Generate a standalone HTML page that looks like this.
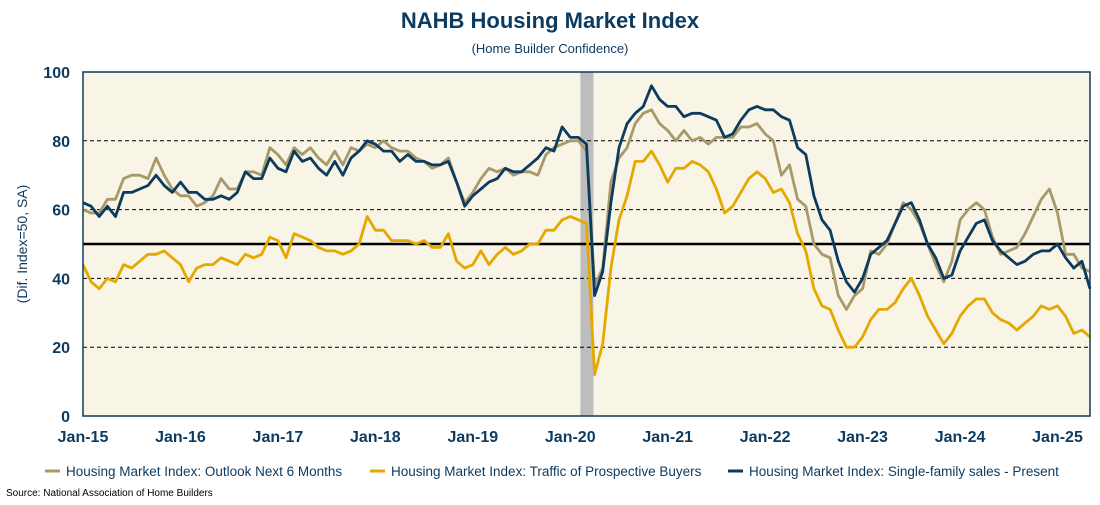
<!DOCTYPE html>
<html><head><meta charset="utf-8"><style>
body{margin:0;background:#fff;font-family:"Liberation Sans",sans-serif}
svg text{font-family:"Liberation Sans",sans-serif}
</style></head><body>
<svg id="c" width="1100" height="500">
<text x="550" y="28" text-anchor="middle" font-size="22" font-weight="bold" fill="#0d3a5f">NAHB Housing Market Index</text>
<text x="550" y="53" text-anchor="middle" font-size="13" fill="#0d3a5f">(Home Builder Confidence)</text>
<text transform="translate(27,244) rotate(-90)" text-anchor="middle" font-size="14" fill="#0d3a5f">(Dif. Index=50, SA)</text>
<text x="6" y="496" font-size="10" fill="#000">Source: National Association of Home Builders</text>
<g id="plot"></g>
<g id="legend"></g>
</svg>
<script>
const xLabels=["Jan-15","Jan-16","Jan-17","Jan-18","Jan-19","Jan-20","Jan-21","Jan-22","Jan-23","Jan-24","Jan-25"];
const yTicks=[0,20,40,60,80,100];
const recession=[61.25,62.85];
const outlook=[60,59,59,63,63,69,70,70,69,75,70,66,
64,64,61,62,64,69,66,66,71,71,70,78,
76,73,78,76,78,75,73,77,73,78,77,79,
78,80,78,77,77,75,74,
72,73,75,68,62,65,69,72,71,72,70,71,71,70,76,78,79,80,80,77,
38,43,68,75,78,85,88,89,85,83,80,83,80,81,79,81,81,81,84,84,
85,82,80,70,73,63,61,50,47,46,35,31,35,37,48,47,50,56,62,60,56,50,44,39,45,57,60,62,60,52,47,48,49,53,58,63,66,59,47,47,43,42];
const traffic=[44,39,37,40,39,44,43,45,47,47,48,46,
44,39,43,44,44,46,45,44,47,46,47,52,
51,46,53,52,51,49,48,48,47,48,50,58,
54,54,51,51,51,50,51,
49,49,53,45,43,44,48,44,47,49,47,48,50,50,54,54,57,58,57,56,
12,21,43,57,64,74,74,77,73,68,72,72,74,73,71,66,59,61,65,69,
71,69,65,66,62,53,48,37,32,31,25,20,20,23,28,31,31,33,37,40,35,29,25,21,24,29,32,34,34,30,28,27,25,27,29,32,31,32,29,24,25,23];
const sales=[62,61,58,61,58,65,65,66,67,70,67,65,
68,65,65,63,63,64,63,65,71,69,69,75,
72,71,77,74,75,72,70,74,70,75,77,80,
79,77,77,74,76,74,74,
73,73,74,68,61,64,66,68,69,72,71,71,73,75,78,77,84,81,81,79,
35,42,62,78,85,88,90,96,92,90,90,87,88,88,87,86,81,82,86,89,
90,89,89,87,86,78,76,64,57,54,45,39,36,40,47,49,51,56,61,62,57,50,46,40,41,48,52,56,57,51,48,46,44,45,47,48,48,50,46,43,45,37];
const L=83,R=1090,T=72,B=416,N=sales.length;
const xs=i=>L+i*(R-L)/(N-1);
const ys=v=>B-v*(B-T)/100;
const NS="http://www.w3.org/2000/svg";
const plot=document.getElementById('plot');
function mk(tag,attrs,parent){const e=document.createElementNS(NS,tag);for(const k in attrs)e.setAttribute(k,attrs[k]);(parent||plot).appendChild(e);return e;}
let bg=mk('rect',{x:L,y:T,width:R-L,height:B-T,fill:'#f8f5e6'});


let rc=mk('rect',{x:xs(recession[0]),y:T,width:xs(recession[1])-xs(recession[0]),height:B-T,fill:'#bdbdbd'});


yTicks.forEach(v=>{
  if(v>0&&v<100){let g=mk('line',{x1:L,x2:R,y1:ys(v),y2:ys(v),stroke:'#000','stroke-width':1,'stroke-dasharray':'4,3'});
  
  }
  let t=mk('text',{x:L-13,y:ys(v)+6,'text-anchor':'end','font-size':16,'font-weight':'bold',fill:'#0d3a5f'});
  t.textContent=v;
  
  
});
let ref=mk('line',{x1:L,x2:R,y1:ys(50),y2:ys(50),stroke:'#000','stroke-width':2.5});


xLabels.forEach((s,k)=>{
  let t=mk('text',{x:xs(k*12),y:442,'text-anchor':'middle','font-size':16,'font-weight':'bold',fill:'#0d3a5f'});
  t.textContent=s;
  
  
});
function line(arr,color,name){
  const d=arr.map((v,i)=>(i?'L':'M')+xs(i).toFixed(1)+','+ys(v).toFixed(1)).join('');
  let p=mk('path',{d:d,fill:'none',stroke:color,'stroke-width':2.8,'stroke-linejoin':'round'});
  
  
}
line(outlook,'#a8996a','line-outlook');
line(traffic,'#e5a800','line-traffic');
line(sales,'#0d3a5f','line-sales');
let fr=mk('rect',{x:L,y:T,width:R-L,height:B-T,fill:'none',stroke:'#0d3a5f','stroke-width':1.5});


const lg=document.getElementById('legend');
const leg=[["Housing Market Index: Outlook Next 6 Months",'#a8996a',45],["Housing Market Index: Traffic of Prospective Buyers",'#e5a800',370],["Housing Market Index: Single-family sales - Present",'#0d3a5f',728]];
leg.forEach(l=>{
  let g=mk('g',{},lg);
  
  
  mk('line',{x1:l[2],x2:l[2]+15,y1:471,y2:471,stroke:l[1],'stroke-width':3},g);
  let t=mk('text',{x:l[2]+21,y:476,'font-size':13.5,fill:'#0d3a5f'},g);
  t.textContent=l[0];
});
</script>
</body></html>
